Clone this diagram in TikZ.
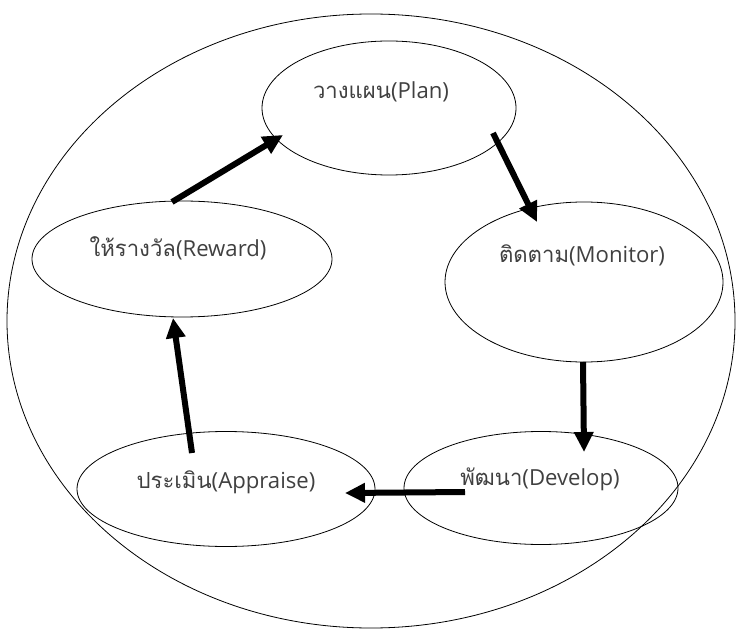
\documentclass[tikz,border=0pt]{standalone}
\usepackage{fontspec}
\setmainfont{Open Sans}
\newfontfamily\thaifont[Script=Thai]{Loma}
\usetikzlibrary{shapes.geometric,arrows.meta,calc}
\tikzset{
  stage/.style={draw, ellipse, line width=0.6pt, inner sep=0pt},
  stagetext/.style={text=black!75, font=\fontsize{16.6}{19}\selectfont},
  flow/.style={line width=4.5pt, -{Triangle[length=15pt,width=14pt]}},
}
\begin{document}
\begin{tikzpicture}[x=0.75pt,y=-0.75pt]
  \useasboundingbox (0,0) rectangle (737,630);
  % outer ellipse
  \node[stage, minimum width=546pt, minimum height=460.5pt] (cycle) at (371,321) {};
  % stages
  \foreach \nm/\cx/\cy/\w/\h in {plan/389/108/190.5pt/100.5pt,
      reward/182/259/225pt/87pt, monitor/584/282/208.5pt/120pt,
      develop/541/488/205.5pt/84.75pt, appraise/226/489/223.5pt/86.25pt}{
    \node[stage, minimum width=\w, minimum height=\h] (\nm) at (\cx,\cy) {};
  }
  % labels
  \node[stagetext] (plantxt) at (381,92) {{\thaifont วางแผน}(Plan)};
  \node[stagetext] (rewardtxt) at (178,248) {{\thaifont ให้รางวัล}(Reward)};
  \node[stagetext] (monitortxt) at (582,255) {{\thaifont ติดตาม}(Monitor)};
  \node[stagetext] (developtxt) at (540,479) {{\thaifont พัฒนา}(Develop)};
  \node[stagetext] (appraisetxt) at (226,482) {{\thaifont ประเมิน}(Appraise)};
  % arrows
  \foreach \a/\ax/\ay/\b/\bx/\by in {reward/-10/-57/plan/-106/27,
      plan/104/25/monitor/-47/-60, monitor/-1/80/develop/43/-36,
      develop/-76/4/appraise/119/4, appraise/-34/-36/reward/-9/59}{
    \draw[flow] ($(\a)+(\ax,\ay)$) -- ($(\b)+(\bx,\by)$);
  }
\end{tikzpicture}
\end{document}
